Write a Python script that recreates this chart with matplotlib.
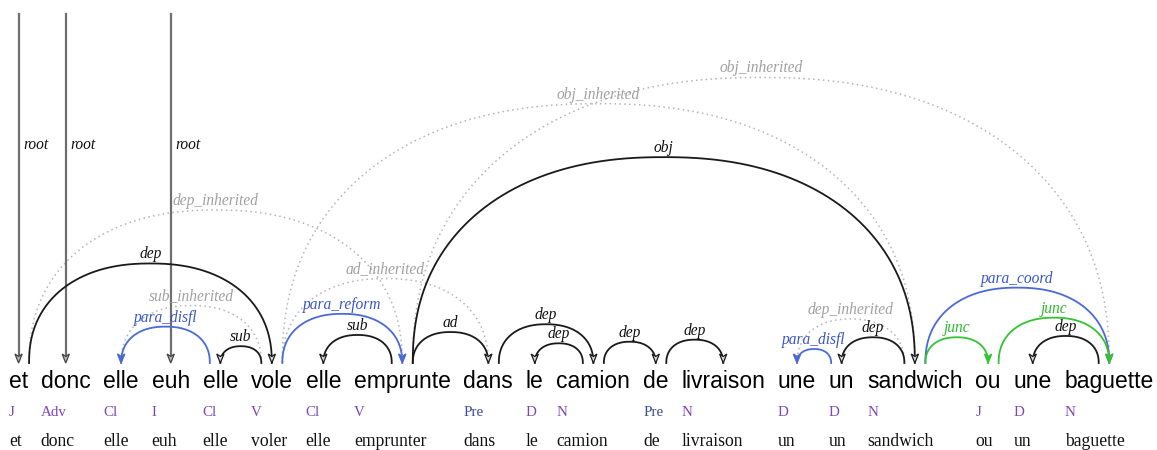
import numpy as np
import matplotlib
matplotlib.use("Agg")
import matplotlib.pyplot as plt
from matplotlib.patches import Polygon

# ---------------- data ----------------
words = ["et", "donc", "elle", "euh", "elle", "vole", "elle", "emprunte", "dans",
         "le", "camion", "de", "livraison", "une", "un", "sandwich", "ou", "une",
         "baguette"]
pos_tags = ["J", "Adv", "Cl", "I", "Cl", "V", "Cl", "V", "Pre", "D", "N", "Pre",
            "N", "D", "D", "N", "J", "D", "N"]
lemmas = ["et", "donc", "elle", "euh", "elle", "voler", "elle", "emprunter", "dans",
          "le", "camion", "de", "livraison", "un", "un", "sandwich", "ou", "un",
          "baguette"]
root_words = [0, 1, 3]
root_label = "root"
# (governor, dependent, label, kind)
arc_heads = [0, 0, 5, 4, 5, 5, 7, 5, 7, 7, 5, 7, 8, 10, 10, 11, 14, 15, 15, 15, 15, 16, 18]
arc_deps = [5, 7, 2, 2, 4, 7, 6, 8, 8, 15, 15, 18, 10, 9, 11, 12, 13, 13, 14, 18, 16, 18, 17]
arc_labels = ["dep", "dep_inherited", "sub_inherited", "para_disfl", "sub", "para_reform",
              "sub", "ad_inherited", "ad", "obj", "obj_inherited", "obj_inherited",
              "dep", "dep", "dep", "dep", "para_disfl", "dep_inherited", "dep",
              "para_coord", "junc", "junc", "dep"]
arc_kinds = ["plain", "inherited", "inherited", "para", "plain", "para", "plain",
             "inherited", "plain", "plain", "inherited", "inherited", "plain", "plain",
             "plain", "plain", "para", "inherited", "plain", "para", "junc", "junc",
             "plain"]

# ---------------- style ----------------
W, H = 1157, 450
line_col = {"plain": "#1a1a1a", "inherited": "#b4b4b4", "para": "#4a6ad6", "junc": "#33c433"}
text_col = {"plain": "#111111", "inherited": "#a0a0a0", "para": "#3a55c8", "junc": "#2fb82f"}
pos_col = {"Pre": "#3b4a9c"}
pos_default = "#7d45b5"
word_font = dict(family="Liberation Sans", size=16.5)
label_font = dict(family="Liberation Serif", style="italic", size=11.2)
pos_font = dict(family="Liberation Serif", size=10.8)
lemma_font = dict(family="Liberation Serif", size=12.7)

word_base = 388
pos_base = 416
lemma_base = 446
arc_base = 363
root_top = 14
x_start = 9
out_offset = 10.5
height_ratio = 0.41

fig = plt.figure(figsize=(W / 100, H / 100), dpi=100)
ax = fig.add_axes([0, 0, 1, 1])
ax.set_xlim(0, W)
ax.set_ylim(H, 0)
ax.axis("off")

# --- lay out the words by measuring their rendered widths ---
renderer = fig.canvas.get_renderer()
fs_px = word_font["size"] * 100 / 72
gap = 0.556 * fs_px
lefts, centers = [], []
x = x_start
for w in words:
    t = ax.text(x, word_base, w, ha="left", va="baseline", color="#000000", **word_font)
    bb = t.get_window_extent(renderer)
    wd = bb.width
    lefts.append(x)
    centers.append(x + wd / 2)
    x += wd + gap

for i in range(len(words)):
    ax.text(lefts[i], pos_base, pos_tags[i], ha="left", va="baseline",
            color=pos_col.get(pos_tags[i], pos_default), **pos_font)
    ax.text(lefts[i], lemma_base, lemmas[i], ha="left", va="baseline",
            color="#111111", **lemma_font)


def arrowhead(xt, color, fc):
    tri = Polygon([[xt, arc_base], [xt - 3.6, arc_base - 9], [xt, arc_base - 6.5],
                   [xt + 3.6, arc_base - 9]], closed=True, facecolor=fc,
                  edgecolor=color, linewidth=0.9, zorder=4)
    ax.add_patch(tri)


# --- root arrows ---
for r in root_words:
    xc = centers[r]
    ax.plot([xc, xc], [root_top, arc_base - 3], color="#6e6e6e", lw=1.6, zorder=3)
    arrowhead(xc, "#444444", "#bbbbbb")
    ax.text(xc + 5, 145, root_label, ha="left", va="center", color="#111111",
            **label_font)

# --- arcs ---
order = sorted(range(len(arc_heads)), key=lambda k: 0 if arc_kinds[k] == "inherited" else 1)
tt = np.linspace(0, np.pi, 200)
p = 2.25
for k in order:
    h, d = arc_heads[k], arc_deps[k]
    kind = arc_kinds[k]
    xs = centers[h] + (out_offset if d > h else -out_offset)
    xe = centers[d]
    cx = (xs + xe) / 2
    a = (xe - xs) / 2
    hgt = height_ratio * abs(xe - xs)
    c = np.cos(tt)
    s = np.sin(tt)
    px = cx - a * np.sign(c) * np.abs(c) ** (2 / p)
    py = arc_base - hgt * np.abs(s) ** (2 / p)
    lc = line_col[kind]
    if kind == "inherited":
        ax.plot(px, py, color=lc, lw=1.1, linestyle=(0, (1, 2.2)), zorder=2)
        arrowhead(xe, "#b0b0b0", "#dddddd")
    else:
        ax.plot(px, py, color=lc, lw=1.3, zorder=3)
        arrowhead(xe, lc, "#dddddd" if kind == "plain" else lc)
    ax.text(cx, arc_base - hgt - 9, arc_labels[k], ha="center", va="center",
            color=text_col[kind], zorder=5, **label_font)

fig.savefig("out.png", dpi=100)
